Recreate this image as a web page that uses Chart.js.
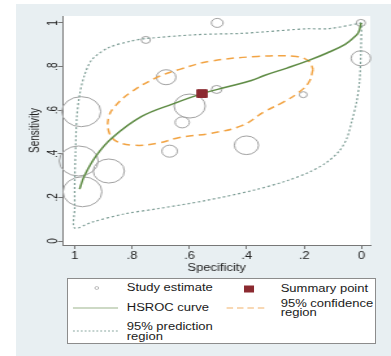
<!DOCTYPE html>
<html>
<head>
<meta charset="utf-8">
<script src="https://cdn.jsdelivr.net/npm/chart.js@4.4.0/dist/chart.umd.min.js"></script>
<style>
body { margin:0; background:#fff; width:391px; height:356px; overflow:hidden; position:relative; font-family:"Liberation Sans", Arial, sans-serif; }
#bg { position:absolute; left:16px; top:4px; right:0; bottom:0; background:#e8eff2; }
#chart { position:absolute; left:0; top:0; }
#legend { position:absolute; left:67px; top:278px; width:307px; height:64px; border:1px solid #8c8c8c; background:#fff; }
#legend .in { position:absolute; left:0; top:0; width:236px; height:64px; transform:scaleX(1.3); transform-origin:0 0; }
#legend svg { position:absolute; left:0; top:0; }
.t { position:absolute; font-size:10px; line-height:10px; color:#1a1a1a; white-space:nowrap; }
</style>
</head>
<body>
<div id="bg"></div>
<canvas id="chart" width="301" height="280" style="width:391px;height:280px"></canvas>
<div id="legend">
  <div class="in">
    <svg width="236" height="64">
      <circle cx="22.1" cy="9" r="1.4" fill="none" stroke="#b0b0b0" stroke-width="0.8"/>
      <rect x="135.4" y="6.5" width="7.7" height="7" fill="#8b2a30"/>
      <line x1="3.8" y1="29" x2="38.5" y2="29" stroke="#bccdb2" stroke-width="1.6"/>
      <line x1="122" y1="29" x2="154" y2="29" stroke="#f6cc9c" stroke-width="1.6" stroke-dasharray="5 3"/>
      <line x1="3.8" y1="52" x2="38.5" y2="52" stroke="#8aa8a0" stroke-width="1.2" stroke-dasharray="1.5 1.5"/>
    </svg>
    <div class="t" style="left:45.2px;top:4px">Study estimate</div>
    <div class="t" style="left:163.6px;top:5px">Summary point</div>
    <div class="t" style="left:45.2px;top:24px">HSROC curve</div>
    <div class="t" style="left:163.6px;top:19.6px;line-height:9.4px">95% confidence<br>region</div>
    <div class="t" style="left:45.2px;top:42.7px">95% prediction<br>region</div>
  </div>
</div>
<script>
// tick marks (Stata style labels)
const xTickVals = [0, 0.2, 0.4, 0.6, 0.8, 1];
const xTickLabels = ['0', '.2', '.4', '.6', '.8', '1'];
const yTickVals = [0, 0.2, 0.4, 0.6, 0.8, 1];
const yTickLabels = ['0', '.2', '.4', '.6', '.8', '1'];

// individual studies
const studySpec = [0.977, 0.986, 0.881, 0.973, 0.669, 0.625, 0.599, 0.681, 0.505, 0.401, 0.203, 0.002, 0.002, 0.503, 0.752];
const studySens = [0.593, 0.367, 0.321, 0.226, 0.412, 0.544, 0.619, 0.751, 0.695, 0.439, 0.671, 0.838, 1.000, 1.000, 0.922];
const studyWeight = [15, 15, 12, 15, 6, 5.5, 12, 7.5, 4, 9.3, 3, 7.5, 3.5, 4.5, 3.5];

// summary point
const summarySpec = [0.556];
const summarySens = [0.676];

// HSROC curve
const hsrocSpec = [0.983, 0.966, 0.926, 0.870, 0.768, 0.655, 0.556, 0.470, 0.384, 0.339, 0.260, 0.186, 0.120, 0.057, 0.025, 0.011, 0.001];
const hsrocSens = [0.238, 0.299, 0.389, 0.472, 0.570, 0.630, 0.676, 0.706, 0.736, 0.759, 0.793, 0.827, 0.862, 0.902, 0.935, 0.955, 1.000];

// 95% confidence region
const confSpec = [0.169, 0.183, 0.217, 0.271, 0.339, 0.417, 0.529, 0.634, 0.712, 0.790, 0.854, 0.881, 0.881, 0.858, 0.803, 0.712, 0.634, 0.529, 0.363, 0.227, 0.183, 0.169];
const confSens = [0.787, 0.729, 0.683, 0.638, 0.593, 0.529, 0.493, 0.475, 0.448, 0.439, 0.457, 0.502, 0.570, 0.620, 0.683, 0.751, 0.787, 0.824, 0.846, 0.846, 0.824, 0.787];

// 95% prediction region
const predSpec = [0.000, 0.112, 0.193, 0.339, 0.417, 0.576, 0.753, 0.803, 0.881, 0.939, 0.966, 0.983, 0.993, 0.997, 1.000, 1.000, 1.000, 0.939, 0.825, 0.712, 0.542, 0.373, 0.261, 0.180, 0.125, 0.078, 0.051, 0.034, 0.017, 0.007, 0.002, 0.000];
const predSens = [1.000, 0.974, 0.973, 0.959, 0.952, 0.946, 0.928, 0.917, 0.887, 0.833, 0.760, 0.670, 0.561, 0.412, 0.276, 0.150, 0.059, 0.087, 0.125, 0.148, 0.186, 0.234, 0.276, 0.317, 0.357, 0.412, 0.471, 0.548, 0.638, 0.729, 0.864, 1.000];

const pts = (xs, ys) => xs.map((x, i) => ({ x: x, y: ys[i] }));

Chart.defaults.font.family = '"Liberation Sans", Arial, sans-serif';
Chart.defaults.font.size = 10;
Chart.defaults.color = '#222';

const plotBg = {
    id: 'plotBg',
    beforeDraw(chart) {
        const a = chart.chartArea;
        chart.ctx.save();
        chart.ctx.fillStyle = '#fff';
        chart.ctx.fillRect(a.left, a.top, a.right - a.left, a.bottom - a.top);
        chart.ctx.restore();
    }
};

const axisStyle = {
    grid: { drawOnChartArea: false, drawTicks: true, tickLength: 4, color: '#777' },
    border: { display: true, color: '#777', width: 1 }
};

const canvas = document.getElementById('chart');
new Chart(canvas, {
    type: 'scatter',
    data: {
        datasets: [
            { label: 'Summary point', data: pts(summarySpec, summarySens), pointStyle: 'rect', pointRadius: 5.5,
              backgroundColor: '#8b2a30', borderColor: '#8b2a30', borderWidth: 1 },
            { label: 'HSROC curve', data: pts(hsrocSpec, hsrocSens), showLine: true, pointRadius: 0,
              borderColor: '#5f8c45', borderWidth: 1.5, tension: 0.4 },
            { label: '95% confidence region', data: pts(confSpec, confSens), showLine: true, pointRadius: 0,
              borderColor: '#f2a444', borderWidth: 1.5, borderDash: [6, 4], tension: 0.4 },
            { label: '95% prediction region', data: pts(predSpec, predSens), showLine: true, pointRadius: 0,
              borderColor: '#7e9e96', borderWidth: 1.2, borderDash: [2, 2], tension: 0.3 },
            { label: 'Study estimate', data: pts(studySpec, studySens), pointRadius: studyWeight,
              backgroundColor: 'rgba(0,0,0,0)', borderColor: '#a2a2a2', borderWidth: 1, clip: false }
        ]
    },
    options: {
        responsive: false,
        animation: false,
        events: [],
        layout: { padding: { left: 13, right: 9.5, top: 13, bottom: 0 } },
        plugins: { legend: { display: false }, tooltip: { enabled: false } },
        scales: {
            x: {
                type: 'linear', reverse: true, min: -0.0305, max: 1.0407,
                ...axisStyle,
                afterBuildTicks: s => { s.ticks = xTickVals.map(v => ({ value: v })); },
                afterFit: s => { s.height = 35; },
                ticks: { padding: 1, maxRotation: 0, callback: (v, i) => xTickLabels[i] },
                title: { display: true, text: 'Specificity', padding: { top: 0, bottom: 6 }, font: { size: 10 } }
            },
            y: {
                type: 'linear', min: -0.0181, max: 1.0317,
                ...axisStyle,
                afterBuildTicks: s => { s.ticks = yTickVals.map(v => ({ value: v })); },
                afterFit: s => { s.width = 35.5; },
                ticks: { padding: -1, minRotation: 90, maxRotation: 90, crossAlign: 'center', callback: (v, i) => yTickLabels[i] },
                title: { display: true, text: 'Sensitivity', padding: { top: 8, bottom: 0 }, font: { size: 10 } }
            }
        }
    },
    plugins: [plotBg]
});
</script>
</body>
</html>
